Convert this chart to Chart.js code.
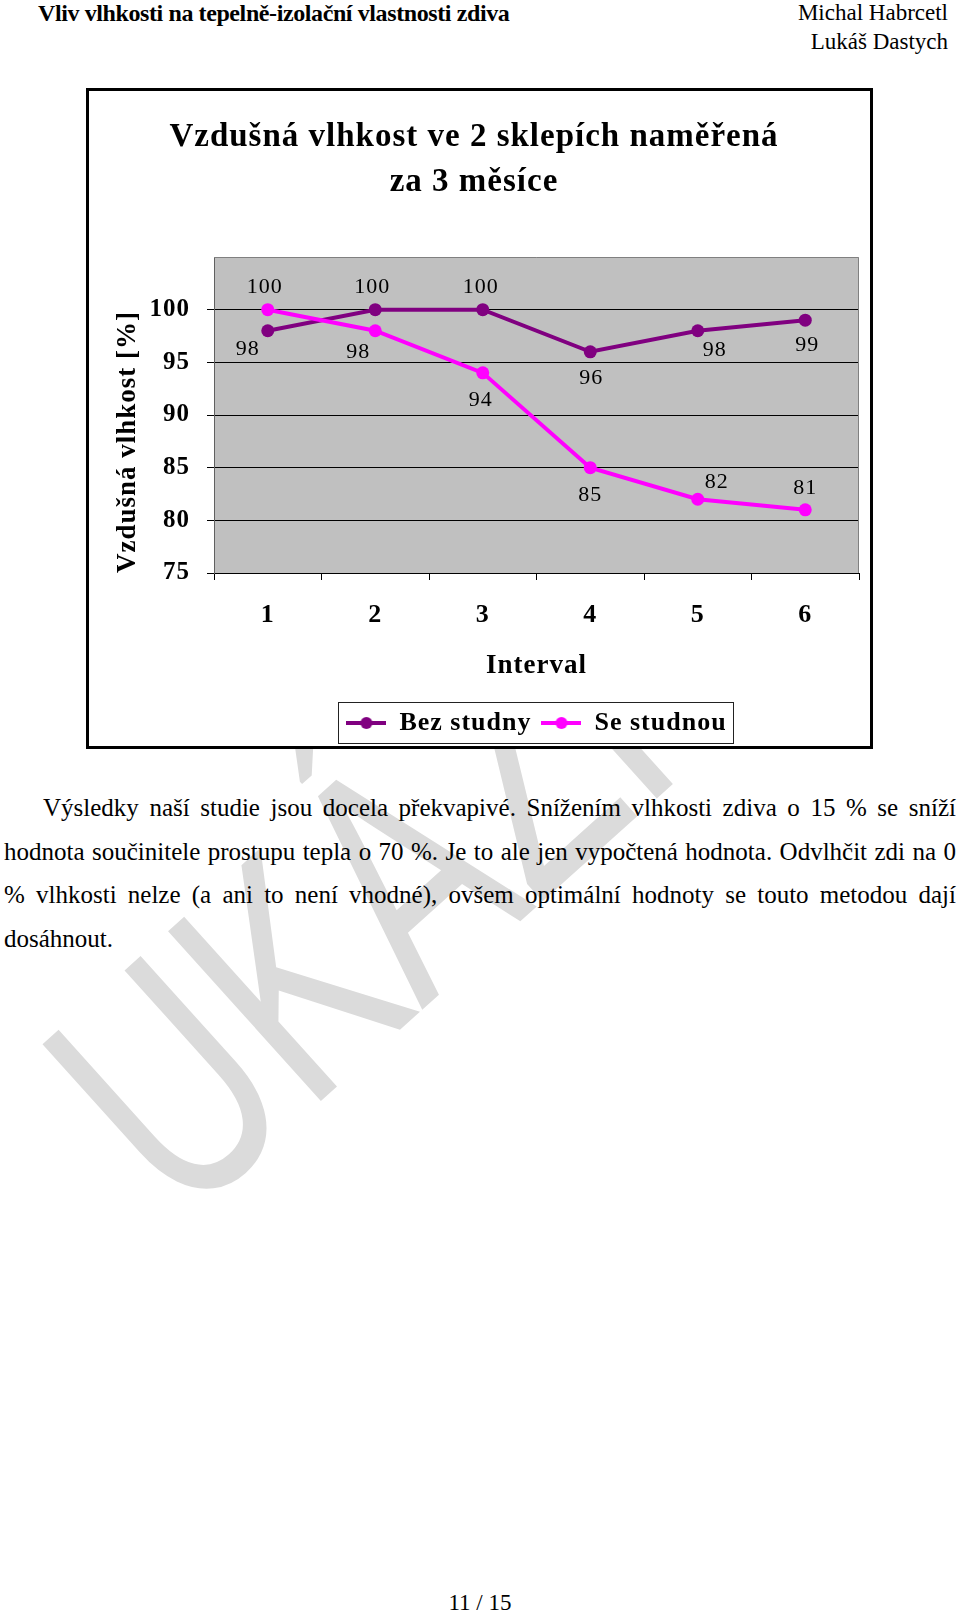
<!DOCTYPE html>
<html lang="cs">
<head>
<meta charset="utf-8">
<title>Vzdušná vlhkost ve 2 sklepích</title>
<script src="https://cdn.jsdelivr.net/npm/chart.js@4.4.1/dist/chart.umd.min.js"></script>
<style>
html, body { margin: 0; padding: 0; background: #fff; }
#page { position: relative; width: 960px; height: 1613px; overflow: hidden; font-family: 'Liberation Serif', 'Times New Roman', serif; color: #000; }
#wm { position: absolute; left: 0; top: 0; }
.ln { position: absolute; line-height: 1; white-space: nowrap; }
.just { text-align: justify; text-align-last: justify; white-space: normal; }
#box { position: absolute; left: 86px; top: 88px; width: 781px; height: 655px; border: 3px solid #000; background: #fff; }
#graf { display: block; }
</style>
</head>
<body>
<div id="page">
  <svg id="wm" width="960" height="1613">
    <text transform="translate(182,1226) rotate(-42) scale(0.7,1)" font-family="Liberation Sans, Arial, sans-serif" font-size="332" fill="#dbdbdb">UKÁZKA</text>
  </svg>

  <div class="ln" style="left:38px; top:1px; font-size:24px; font-weight:bold; letter-spacing:-0.4px;">Vliv vlhkosti na tepelně-izolační vlastnosti zdiva</div>
  <div class="ln" style="right:12px; top:1px; font-size:23px;">Michal Habrcetl</div>
  <div class="ln" style="right:12px; top:30px; font-size:23px;">Lukáš Dastych</div>

  <div id="box"><canvas id="graf" width="781" height="655"></canvas></div>

  <div class="ln just" style="left:43px; width:913px; top:795px; font-size:25px;">Výsledky naší studie jsou docela překvapivé. Snížením vlhkosti zdiva o 15 % se sníží</div>
  <div class="ln just" style="left:4px; width:952px; top:839px; font-size:25px;">hodnota součinitele prostupu tepla o 70 %. Je to ale jen vypočtená hodnota. Odvlhčit zdi na 0</div>
  <div class="ln just" style="left:4px; width:952px; top:882px; font-size:25px;">% vlhkosti nelze (a ani to není vhodné), ovšem optimální hodnoty se touto metodou dají</div>
  <div class="ln" style="left:4px; top:926px; font-size:25px;">dosáhnout.</div>

  <div class="ln" style="left:0; width:960px; text-align:center; top:1591px; font-size:23px;">11 / 15</div>
</div>

<script>
// data z grafu
const intervaly = ['1', '2', '3', '4', '5', '6'];
const bezStudny = [98, 100, 100, 96, 98, 99];
const seStudnou = [100, 98, 94, 85, 82, 81];
const osaMin = 75;
const osaMax = 105;
const osaKrok = 5;

const fialova = '#800080';
const ruzova = '#ff00ff';

// znacka do legendy: cara s koleckem
function znacka(barva) {
    const c = document.createElement('canvas');
    c.width = 40;
    c.height = 14;
    const g = c.getContext('2d');
    g.strokeStyle = barva;
    g.lineWidth = 4;
    g.beginPath();
    g.moveTo(0, 7);
    g.lineTo(40, 7);
    g.stroke();
    g.fillStyle = barva;
    g.beginPath();
    g.arc(20, 7, 6, 0, Math.PI * 2);
    g.fill();
    return c;
}

// sede pozadi plochy a ramecek
const plochaGrafu = {
    id: 'plochaGrafu',
    beforeUpdate(chart) {
        chart.ctx.letterSpacing = '1px';
    },
    beforeDraw(chart) {
        const { ctx, chartArea: a } = chart;
        ctx.letterSpacing = '1px';
        ctx.save();
        ctx.fillStyle = '#c0c0c0';
        ctx.fillRect(a.left, a.top, a.width, a.height);
        ctx.restore();
    },
    beforeDatasetsDraw(chart) {
        const { ctx, chartArea: a } = chart;
        ctx.save();
        ctx.strokeStyle = '#808080';
        ctx.lineWidth = 1;
        ctx.beginPath();
        ctx.moveTo(a.left, Math.round(a.top) + 0.5);
        ctx.lineTo(Math.round(a.right) - 0.5, Math.round(a.top) + 0.5);
        ctx.lineTo(Math.round(a.right) - 0.5, a.bottom);
        ctx.stroke();
        ctx.restore();
    }
};

// popisky hodnot u bodu
const popisky = {
    id: 'popisky',
    afterDatasetsDraw(chart) {
        const ctx = chart.ctx;
        ctx.save();
        ctx.font = '22px "Liberation Serif"';
        ctx.fillStyle = '#000';
        ctx.textAlign = 'center';
        ctx.textBaseline = 'middle';
        chart.data.datasets.forEach((ds, i) => {
            chart.getDatasetMeta(i).data.forEach((bod, j) => {
                const [dx, dy] = ds.posunPopisku[j];
                ctx.fillText(String(ds.data[j]), bod.x + dx, bod.y + dy);
            });
        });
        ctx.restore();
    }
};

// ramecek kolem legendy
const ramecekLegendy = {
    id: 'ramecekLegendy',
    afterDraw(chart) {
        const boxy = chart.legend.legendHitBoxes;
        if (!boxy || !boxy.length) return;
        const ctx = chart.ctx;
        const x0 = Math.round(Math.min(...boxy.map(b => b.left)) - 8);
        const x1 = Math.round(Math.max(...boxy.map(b => b.left + b.width)) + 6);
        const yc = boxy[0].top + boxy[0].height / 2;
        ctx.save();
        ctx.strokeStyle = '#222';
        ctx.lineWidth = 1;
        ctx.strokeRect(x0 + 0.5, Math.round(yc - 21) + 0.5, x1 - x0, 41);
        ctx.restore();
    }
};

const ctx = document.getElementById('graf').getContext('2d');

const graf = new Chart(ctx, {
    type: 'line',
    data: {
        labels: intervaly,
        datasets: [{
            label: 'Bez studny',
            data: bezStudny,
            borderColor: fialova,
            backgroundColor: fialova,
            borderWidth: 4,
            pointRadius: 6.5,
            pointHoverRadius: 6.5,
            pointBorderWidth: 0,
            tension: 0,
            order: 1,
            posunPopisku: [[-20, 18], [-3, -22], [-2, -22], [1, 26], [17, 19], [2, 25]]
        }, {
            label: 'Se studnou',
            data: seStudnou,
            borderColor: ruzova,
            backgroundColor: ruzova,
            borderWidth: 4,
            pointRadius: 6.5,
            pointHoverRadius: 6.5,
            pointBorderWidth: 0,
            tension: 0,
            order: 0,
            posunPopisku: [[-3, -22], [-17, 21], [-2, 27], [0, 28], [19, -17], [0, -22]]
        }]
    },
    options: {
        responsive: false,
        animation: false,
        devicePixelRatio: 1,
        events: [],
        font: { family: '"Liberation Serif", "Times New Roman", serif' },
        color: '#000',
        layout: { padding: { left: 0, right: 11, top: 0, bottom: 0 } },
        plugins: {
            tooltip: { enabled: false },
            title: {
                display: true,
                text: ['Vzdušná vlhkost ve 2 sklepích naměřená', 'za 3 měsíce'],
                color: '#000',
                font: { family: '"Liberation Serif", serif', size: 33, weight: 'bold', lineHeight: 45 / 33 },
                padding: { top: 23.5, bottom: 52.5 }
            },
            legend: {
                position: 'bottom',
                fullSize: false,
                labels: {
                    usePointStyle: true,
                    pointStyleWidth: 40,
                    padding: 10,
                    color: '#000',
                    font: { family: '"Liberation Serif", serif', size: 26, weight: 'bold' },
                    generateLabels(chart) {
                        return chart.data.datasets.map((ds, i) => ({
                            text: ds.label,
                            pointStyle: znacka(ds.borderColor),
                            fillStyle: ds.borderColor,
                            strokeStyle: ds.borderColor,
                            lineWidth: 0,
                            hidden: false,
                            datasetIndex: i
                        }));
                    }
                }
            }
        },
        scales: {
            x: {
                type: 'category',
                offset: true,
                grid: { display: true, drawOnChartArea: false, offset: true, color: '#000', tickLength: 7, lineWidth: 1 },
                border: { display: true, color: '#000', width: 1 },
                ticks: { color: '#000', padding: 20, font: { family: '"Liberation Serif", serif', size: 26, weight: 'bold' } },
                title: {
                    display: true,
                    text: 'Interval',
                    color: '#000',
                    font: { family: '"Liberation Serif", serif', size: 27, weight: 'bold' },
                    padding: { top: 17, bottom: 18 }
                },
                afterFit(s) { s.height = 127; }
            },
            y: {
                min: osaMin,
                max: osaMax,
                grid: { color: '#000', tickLength: 7, lineWidth: 1 },
                border: { color: '#606060', width: 1 },
                ticks: {
                    stepSize: osaKrok,
                    color: '#000',
                    padding: 17,
                    font: { family: '"Liberation Serif", serif', size: 25, weight: 'bold' },
                    callback: v => (v > 100 ? null : v)
                },
                title: {
                    display: true,
                    text: 'Vzdušná vlhkost [%]',
                    align: 'start',
                    color: '#000',
                    font: { family: '"Liberation Serif", serif', size: 27, weight: 'bold' },
                    padding: { top: 23, bottom: 0 }
                },
                afterFit(s) { s.width = 125; }
            }
        }
    },
    plugins: [plochaGrafu, popisky, ramecekLegendy]
});
</script>
</body>
</html>
